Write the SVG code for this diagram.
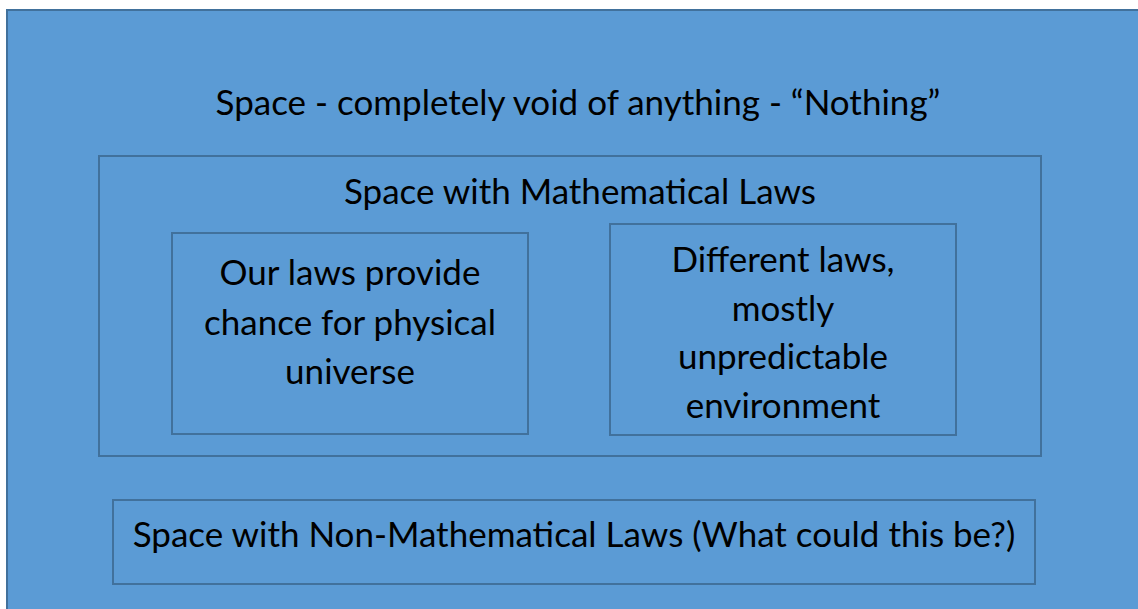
<svg xmlns="http://www.w3.org/2000/svg" width="1138" height="609" viewBox="0 0 1138 609">
<style>
.box{fill:#5B9BD5;stroke:#41719C;stroke-width:2}
.t{font-family:Lato,"Open Sans",sans-serif;font-size:35px;fill:#000;text-anchor:middle}
</style>
<rect x="0" y="0" width="1138" height="609" fill="#FFFFFF"/>
<g id="space">
<rect class="box" x="7" y="10" width="1140" height="610"/>
<text class="t" x="578" y="115">Space - completely void of anything - “Nothing”</text>
</g>
<g id="math">
<rect class="box" x="99" y="156" width="942" height="300"/>
<text class="t" x="580" y="204">Space with Mathematical Laws</text>
</g>
<g id="our">
<rect class="box" x="172" y="233" width="356" height="201"/>
<text class="t" x="350" y="285">Our laws provide</text>
<text class="t" x="350" y="335">chance for physical</text>
<text class="t" x="350" y="384">universe</text>
</g>
<g id="different">
<rect class="box" x="610" y="224" width="346" height="211"/>
<text class="t" x="783" y="272">Different laws,</text>
<text class="t" x="783" y="321">mostly</text>
<text class="t" x="783" y="369">unpredictable</text>
<text class="t" x="783" y="418">environment</text>
</g>
<g id="nonmath">
<rect class="box" x="113" y="500" width="922" height="84"/>
<text class="t" x="574" y="547">Space with Non-Mathematical Laws (What could this be?)</text>
</g>
<g id="connectors"/>
</svg>
